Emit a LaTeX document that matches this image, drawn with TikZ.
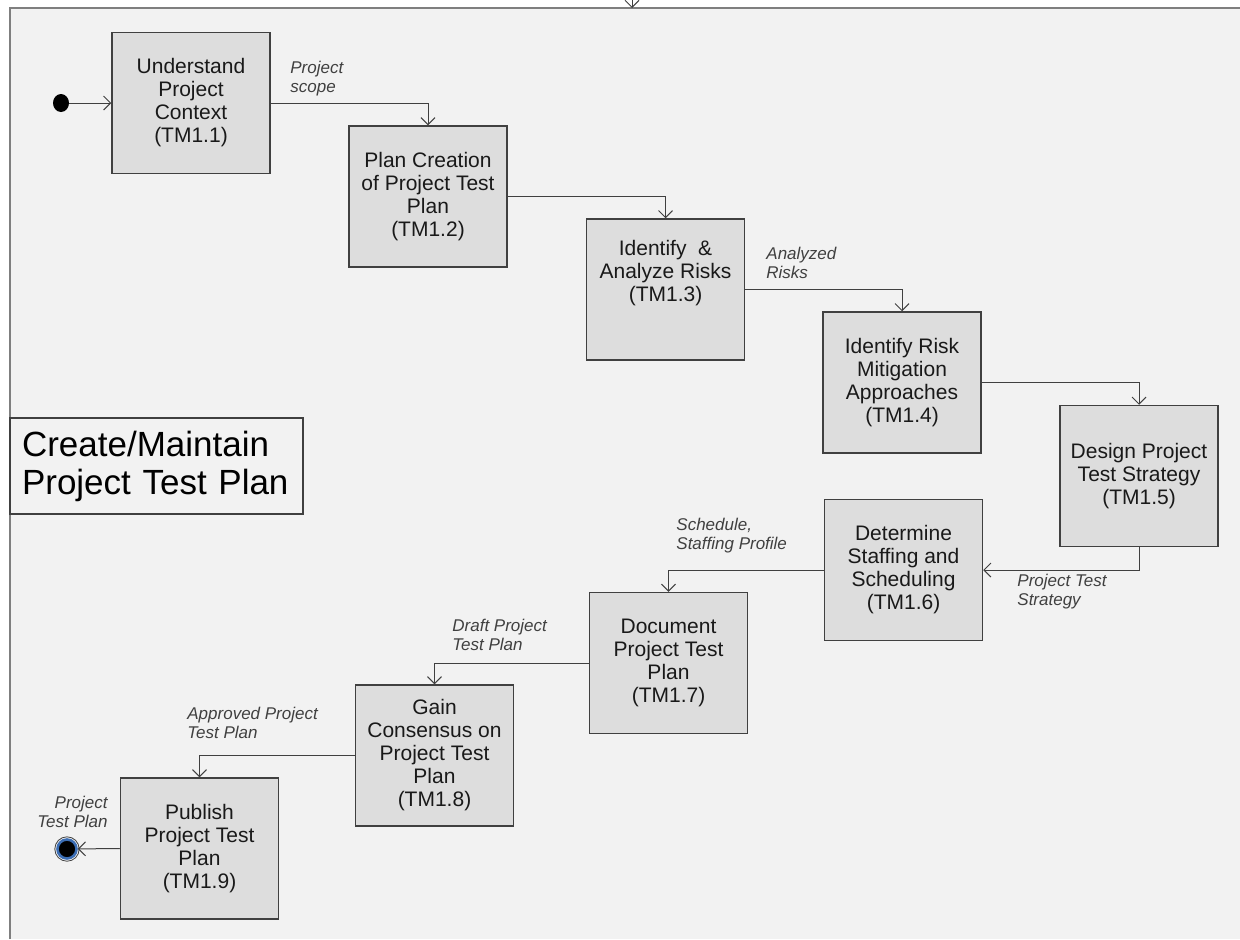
\documentclass[tikz,border=0pt]{standalone}
\usepackage{fontspec}
\setmainfont{Liberation Sans}
\usetikzlibrary{positioning,arrows.meta,shapes.geometric}
\definecolor{panelgray}{HTML}{F2F2F2}
\definecolor{boxgray}{HTML}{DDDDDD}
\definecolor{linegray}{HTML}{404040}
\definecolor{framegray}{HTML}{7F7F7F}
\definecolor{ringblue}{HTML}{3C6EB4}

\begin{document}
\begin{tikzpicture}[x=0.5pt,y=-0.5pt,
    task/.style={draw=linegray, line width=0.75pt, fill=boxgray, minimum width=79pt,
      minimum height=70.5pt, align=center, inner sep=2pt, text=black!90,
      font=\fontsize{10.5}{11.5}\selectfont},
    note/.style={text=linegray, inner sep=0pt, font=\fontsize{8.5}{9.5}\selectfont\itshape},
    flow/.style={draw=linegray, line width=0.5pt, -{Straight Barb[length=3.5pt,width=7pt]}}]
      \useasboundingbox (0,0) rectangle (1240,939);
      % panel
      \fill [panelgray] (10,8) rectangle (1240,939);
      \draw [framegray, line width=1pt] (10,939) -- (10,8) -- (1240,8);
      \node [draw=linegray, line width=0.6pt, fill=panelgray, minimum width=146.5pt,
             minimum height=48pt, text width=134.5pt, inner xsep=6pt, align=left,
             font=\fontsize{17.5}{19}\selectfont] (heading) at (156.5,466)
            {Create/Maintain\\Project Test Plan};
      % activities
      \node [task] (ctx) at (191,103) {Understand\\Project\\Context\\(TM1.1)};
      \node [task] (creation) at (428,196.5) {Plan Creation\\of Project Test\\Plan\\(TM1.2)};
      \node [task] (risks) at (665.5,289.5) {Identify \ \&\\Analyze Risks\\(TM1.3)\\[7pt]\mbox{}};
      \node [task] (mitig) at (902,382.5) {Identify Risk\\Mitigation\\Approaches\\(TM1.4)};
      \node [task] (strategy) at (1139,476) {Design Project\\Test Strategy\\(TM1.5)};
      \node [task] (staffing) at (903.5,570) {Determine\\Staffing and\\Scheduling\\(TM1.6)};
      \node [task] (document) at (668.5,663) {Document\\Project Test\\Plan\\(TM1.7)};
      \node [task] (consensus) at (434.5,755.5) {Gain\\Consensus on\\Project Test\\Plan\\(TM1.8)};
      \node [task] (publish) at (199.5,848.5) {Publish\\Project Test\\Plan\\(TM1.9)};
      % start / end
      \node [ellipse, fill=black, minimum width=8pt, minimum height=9pt, inner sep=0pt] (start) at (61,103) {};
      \node [circle, fill=black, draw=ringblue, line width=1.3pt, minimum size=9.5pt,
             inner sep=0pt] (finish) at (67,849) {};
      \draw [linegray, line width=0.4pt] (finish.center) circle (6.1pt);
      \coordinate (feed) at (632,-6);
      \coordinate (entry) at (632,8);
      % flows
      \draw [flow] (feed) -- (entry);
      \draw [flow] (start) -- (ctx);
      \draw [flow] (ctx.east) -| (creation.north);
      \draw [flow] (creation.east) -| (risks.north);
      \draw [flow] (risks.east) -| (mitig.north);
      \draw [flow] (mitig.east) -| (strategy.north);
      \draw [flow] (strategy.south) |- (staffing.east);
      \draw [flow] (staffing.west) -| (document.north);
      \draw [flow] (document.west) -| (consensus.north);
      \draw [flow] (consensus.west) -| (publish.north);
      \draw [flow] (publish.west) -- (finish);
      % flow labels
      \node [note, anchor=west, align=left] (scope) at (290,78.5) {Project\\scope};
      \node [note, anchor=west, align=left] (analyzed) at (766,262.5) {Analyzed\\Risks};
      \node [note, anchor=west, align=left] (teststrat) at (1017,591.5) {Project Test\\Strategy};
      \node [note, anchor=west, align=left] (schedule) at (676,536) {Schedule,\\Staffing Profile};
      \node [note, anchor=west, align=left] (draft) at (452,635) {Draft Project\\Test Plan};
      \node [note, anchor=west, align=left] (approved) at (187,723) {Approved Project\\Test Plan};
      \node [note, anchor=east, align=right] (final) at (108,812) {Project\\Test Plan};
\end{tikzpicture}
\end{document}
